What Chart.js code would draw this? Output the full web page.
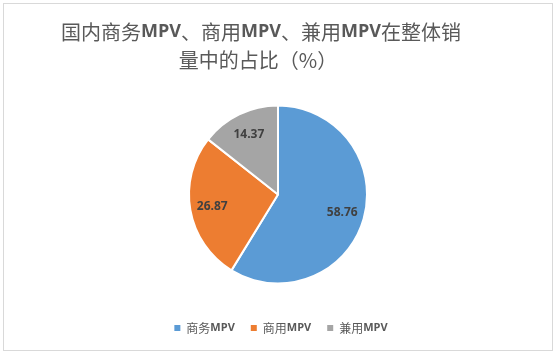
<!DOCTYPE html>
<html><head><meta charset="utf-8">
<script src="https://cdn.jsdelivr.net/npm/chart.js@4/dist/chart.umd.min.js"></script>
<style>
html,body{margin:0;padding:0;background:#fff;overflow:hidden;}
canvas{display:block;}
</style></head>
<body>
<canvas id="c" width="557" height="355"></canvas>
<script>
const categories = ['商务MPV', '商用MPV', '兼用MPV'];
const values = [58.76, 26.87, 14.37];
const labelsText = ['58.76', '26.87', '14.37'];
const colors = ['#5B9BD5', '#ED7D31', '#A5A5A5'];
const titleLines = ['国内商务MPV、商用MPV、兼用MPV在整体销', '量中的占比（%）'];

const CJK = '"Microsoft YaHei","Noto Sans CJK SC",sans-serif';
const LAT = '"Open Sans","Liberation Sans",sans-serif';

function segments(text) {
  return text.split(/([A-Za-z]+)/).filter(s => s.length).map(s => ({ s, latin: /^[A-Za-z]+$/.test(s) }));
}
function drawMixed(ctx, text, cx, cy, size, latinSize) {
  const segs = segments(text);
  const fontOf = g => g.latin ? `bold ${latinSize}px ${LAT}` : `${size}px ${CJK}`;
  let total = 0;
  segs.forEach(g => { ctx.font = fontOf(g); g.w = ctx.measureText(g.s).width; total += g.w; });
  let x = cx - total / 2;
  segs.forEach(g => { ctx.font = fontOf(g); ctx.fillText(g.s, x, cy); x += g.w; });
  return total;
}
function measureMixed(ctx, text, size, latinSize) {
  let total = 0;
  segments(text).forEach(g => {
    ctx.font = g.latin ? `bold ${latinSize}px ${LAT}` : `${size}px ${CJK}`;
    total += ctx.measureText(g.s).width;
  });
  return total;
}

const framePlugin = {
  id: 'frame',
  beforeDraw(chart) {
    const ctx = chart.ctx;
    ctx.save();
    ctx.fillStyle = '#ffffff';
    ctx.fillRect(0, 0, chart.width, chart.height);
    ctx.strokeStyle = '#d9d9d9';
    ctx.lineWidth = 1;
    ctx.strokeRect(3.5, 3.5, 549, 347);
    ctx.restore();
  },
  afterDraw(chart) {
    const ctx = chart.ctx;
    ctx.save();
    ctx.fillStyle = '#595959';
    ctx.textAlign = 'left';
    ctx.textBaseline = 'middle';
    drawMixed(ctx, titleLines[0], 261, 32, 20, 18);
    drawMixed(ctx, titleLines[1], 258, 60, 20, 18);

    // legend
    const box = 6, gapBox = 6, gapItem = 16;
    const widths = categories.map(c => measureMixed(ctx, c, 12, 11));
    const total = widths.reduce((a, w) => a + box + gapBox + w, 0) + gapItem * (categories.length - 1);
    let x = 281 - total / 2;
    const y = 328;
    categories.forEach((c, i) => {
      ctx.fillStyle = colors[i];
      ctx.fillRect(x, y - box / 2, box, box);
      x += box + gapBox;
      ctx.fillStyle = '#595959';
      drawMixed(ctx, c, x + widths[i] / 2, y, 12, 11);
      x += widths[i] + gapItem;
    });
    ctx.restore();
  }
};

const dataLabelPlugin = {
  id: 'dl',
  afterDatasetsDraw(chart) {
    const ctx = chart.ctx;
    const meta = chart.getDatasetMeta(0);
    ctx.save();
    ctx.font = `bold 12px ${LAT}`;
    ctx.fillStyle = '#404040';
    ctx.textAlign = 'center';
    ctx.textBaseline = 'middle';
    meta.data.forEach((arc, i) => {
      const p = arc.getProps(['x','y','startAngle','endAngle','outerRadius'], true);
      const mid = (p.startAngle + p.endAngle) / 2;
      const r = p.outerRadius * 0.75;
      ctx.fillText(labelsText[i], p.x + Math.cos(mid) * r, p.y + Math.sin(mid) * r);
    });
    ctx.restore();
  }
};

new Chart(document.getElementById('c'), {
  type: 'pie',
  data: {
    labels: categories,
    datasets: [{
      data: values,
      backgroundColor: colors,
      borderColor: '#ffffff',
      borderWidth: 2,
      radius: 89
    }]
  },
  options: {
    responsive: false,
    animation: false,
    layout: { padding: { top: 100, bottom: 66, left: 0, right: 1 } },
    plugins: {
      title: { display: false },
      legend: { display: false },
      tooltip: { enabled: false }
    }
  },
  plugins: [framePlugin, dataLabelPlugin]
});
</script>
</body></html>
